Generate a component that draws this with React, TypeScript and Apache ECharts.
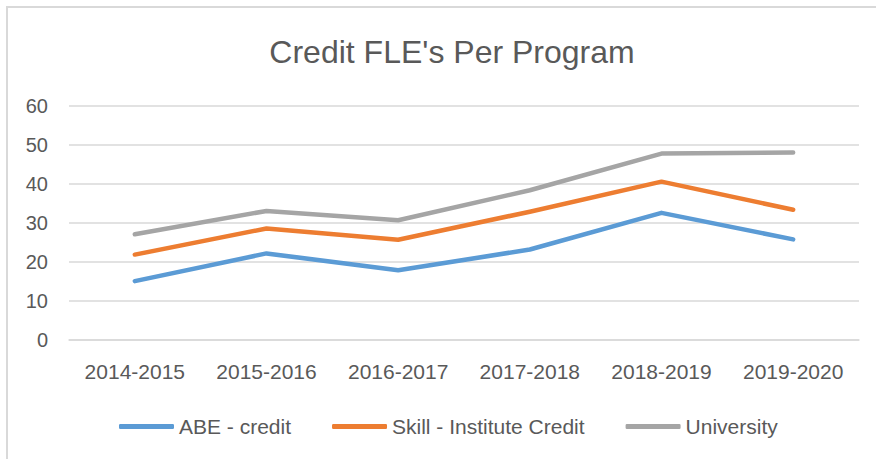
import React, { useEffect, useRef } from "react";
import * as echarts from "echarts";

const categories = ["2014-2015", "2015-2016", "2016-2017", "2017-2018", "2018-2019", "2019-2020"];
const abeCredit = [15.1, 22.2, 17.9, 23.2, 32.6, 25.8];
const skillInstitute = [21.9, 28.6, 25.7, 32.9, 40.6, 33.4];
const university = [27.1, 33.1, 30.7, 38.4, 47.8, 48.1];
const seriesNames = ["ABE - credit", "Skill - Institute Credit", "University"];
const colors = ["#5B9BD5", "#ED7D31", "#A5A5A5"];

const FONT = "'Liberation Sans', Arial, sans-serif";

export default function App() {
  const ref = useRef<HTMLDivElement>(null);
  useEffect(() => {
    if (!ref.current) return;
    const chart = echarts.init(ref.current, null, { renderer: "svg" });
    const data = [abeCredit, skillInstitute, university];
    chart.setOption({
      animation: false,
      backgroundColor: "#ffffff",
      textStyle: { fontFamily: FONT },
      title: {
        text: "Credit FLE's Per Program",
        left: 447,
        textAlign: "center",
        top: 31,
        textStyle: { fontFamily: FONT, fontSize: 32, fontWeight: "normal", color: "#595959" },
      },
      graphic: [
        {
          type: "rect",
          shape: { x: 7, y: 7, width: 900, height: 500 },
          style: { fill: "none", stroke: "#d9d9d9", lineWidth: 2 },
          silent: true,
        },
      ],
      legend: {
        data: seriesNames,
        top: 411,
        left: 114,
        icon: "roundRect",
        itemWidth: 55,
        itemHeight: 5,
        itemGap: 41,
        textStyle: { fontFamily: FONT, fontSize: 21, color: "#595959" },
      },
      grid: { left: 69, right: 17, top: 106, bottom: 119, containLabel: false },
      xAxis: {
        type: "category",
        data: categories,
        boundaryGap: true,
        axisLine: { lineStyle: { color: "#d9d9d9", width: 1.5 } },
        axisTick: { show: false },
        axisLabel: { fontFamily: FONT, fontSize: 21, color: "#595959", margin: 21 },
      },
      yAxis: {
        type: "value",
        min: 0,
        max: 60,
        interval: 10,
        axisLine: { show: false },
        axisTick: { show: false },
        splitLine: { lineStyle: { color: "#d9d9d9", width: 1.5 } },
        axisLabel: { fontFamily: FONT, fontSize: 20, color: "#595959", margin: 21 },
      },
      series: seriesNames.map((name, i) => ({
        name,
        type: "line",
        data: data[i],
        symbol: "none",
        lineStyle: { color: colors[i], width: 4.5, cap: "round", join: "round" },
        itemStyle: { color: colors[i] },
      })),
    });
    return () => chart.dispose();
  }, []);
  return (
    <div
      ref={ref}
      style={{ position: "absolute", left: 0, top: 0, width: 876, height: 459 }}
    />
  );
}
